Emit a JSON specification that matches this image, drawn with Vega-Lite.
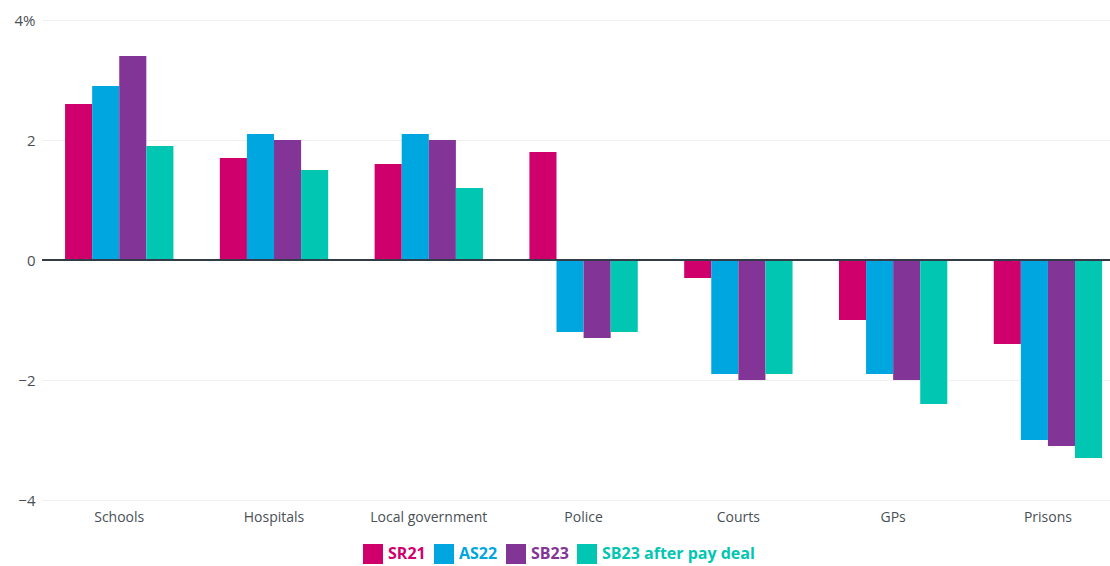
{
  "$schema": "https://vega.github.io/schema/vega-lite/v6.json",
  "autosize": {"type": "none"},
  "padding": {"left": 42, "top": 20, "right": 0, "bottom": 66},
  "width": 1068,
  "height": 480,
  "background": "white",
  "config": {
    "view": {"stroke": null},
    "font": "Open Sans",
    "axis": {"labelFont": "Open Sans", "labelColor": "#4a4f55", "labelFontSize": 14}
  },
  "data": {
    "values": [
      {"category": "Schools", "series": "SR21", "value": 2.6},
      {"category": "Schools", "series": "AS22", "value": 2.9},
      {"category": "Schools", "series": "SB23", "value": 3.4},
      {"category": "Schools", "series": "SB23 after pay deal", "value": 1.9},
      {"category": "Hospitals", "series": "SR21", "value": 1.7},
      {"category": "Hospitals", "series": "AS22", "value": 2.1},
      {"category": "Hospitals", "series": "SB23", "value": 2.0},
      {"category": "Hospitals", "series": "SB23 after pay deal", "value": 1.5},
      {"category": "Local government", "series": "SR21", "value": 1.6},
      {"category": "Local government", "series": "AS22", "value": 2.1},
      {"category": "Local government", "series": "SB23", "value": 2.0},
      {"category": "Local government", "series": "SB23 after pay deal", "value": 1.2},
      {"category": "Police", "series": "SR21", "value": 1.8},
      {"category": "Police", "series": "AS22", "value": -1.2},
      {"category": "Police", "series": "SB23", "value": -1.3},
      {"category": "Police", "series": "SB23 after pay deal", "value": -1.2},
      {"category": "Courts", "series": "SR21", "value": -0.3},
      {"category": "Courts", "series": "AS22", "value": -1.9},
      {"category": "Courts", "series": "SB23", "value": -2.0},
      {"category": "Courts", "series": "SB23 after pay deal", "value": -1.9},
      {"category": "GPs", "series": "SR21", "value": -1.0},
      {"category": "GPs", "series": "AS22", "value": -1.9},
      {"category": "GPs", "series": "SB23", "value": -2.0},
      {"category": "GPs", "series": "SB23 after pay deal", "value": -2.4},
      {"category": "Prisons", "series": "SR21", "value": -1.4},
      {"category": "Prisons", "series": "AS22", "value": -3.0},
      {"category": "Prisons", "series": "SB23", "value": -3.1},
      {"category": "Prisons", "series": "SB23 after pay deal", "value": -3.3}
    ]
  },
  "layer": [
    {
      "mark": {"type": "bar"},
      "encoding": {
        "x": {
          "field": "category", "type": "nominal", "sort": null,
          "scale": {"paddingInner": 0.3, "paddingOuter": 0.1, "align": 0.745},
          "axis": {"title": null, "domain": false, "ticks": false, "labelPadding": 10, "labelAngle": 0}
        },
        "xOffset": {
          "field": "series", "type": "nominal", "sort": null,
          "scale": {"paddingInner": 0, "paddingOuter": 0}
        },
        "y": {
          "field": "value", "type": "quantitative",
          "scale": {"domain": [-4, 4], "nice": false},
          "axis": {
            "title": null, "domain": false, "ticks": false, "values": [-4, -2, 0, 2, 4],
            "labelPadding": 7, "gridColor": "#f0f0f0", "gridWidth": 1, "labelFontSize": 15,
            "labelExpr": "datum.value == 4 ? '4%' : format(datum.value, 'd')"
          }
        },
        "color": {
          "field": "series", "type": "nominal", "sort": null,
          "scale": {
            "domain": ["SR21", "AS22", "SB23", "SB23 after pay deal"],
            "range": ["#cf006b", "#00a6e0", "#833597", "#00c6b2"]
          },
          "legend": {
            "title": null, "orient": "none", "direction": "horizontal",
            "legendX": 321, "legendY": 524,
            "symbolType": "square", "symbolSize": 400, "symbolStrokeWidth": 0,
            "labelFontSize": 16, "labelFontWeight": "bold", "labelFont": "Open Sans",
            "labelOffset": 5, "columnPadding": 8,
            "encode": {"labels": {"update": {"fill": {"scale": "color", "field": "value"}}}}
          }
        }
      }
    },
    {
      "mark": {"type": "rule", "color": "#333d47", "strokeWidth": 1.5},
      "encoding": {"y": {"datum": 0}}
    }
  ]
}
